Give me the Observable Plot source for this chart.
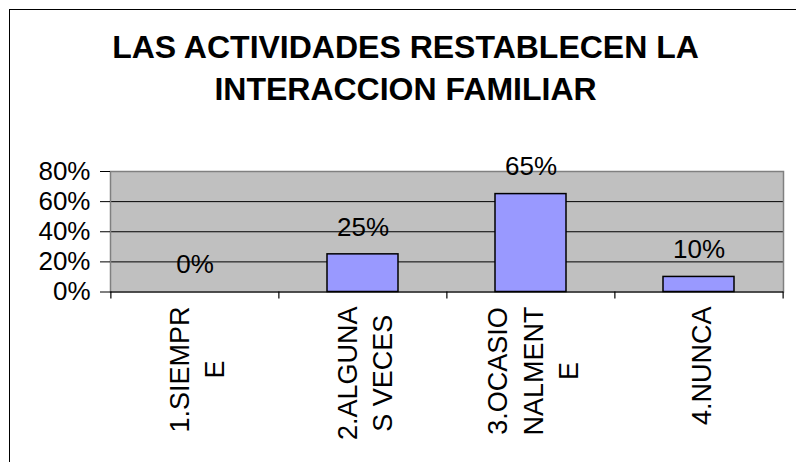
<!DOCTYPE html>
<html>
<head>
<meta charset="utf-8">
<script src="https://cdn.jsdelivr.net/npm/d3@7"></script>
<script src="https://cdn.jsdelivr.net/npm/@observablehq/plot@0.6"></script>
<style>
  html, body { margin: 0; padding: 0; background: #fff; }
  body { width: 796px; height: 462px; position: relative; overflow: hidden; font-family: "Liberation Sans", Arial, sans-serif; }
  #border { position: absolute; left: 9px; top: 9px; width: 800px; height: 470px; border-top: 1px solid #000; border-left: 1px solid #000; box-sizing: border-box; }
  #title { position: absolute; left: 12px; top: 27px; width: 787px; text-align: center; font-weight: bold; font-size: 32px; line-height: 41.7px; color: #000; }
  #chart { position: absolute; left: 0; top: 120px; }
</style>
</head>
<body>
<div id="border"></div>
<div id="title">LAS ACTIVIDADES RESTABLECEN LA<br>INTERACCION FAMILIAR</div>
<div id="chart"></div>
<script>
const categories = ["1.SIEMPRE", "2.ALGUNAS VECES", "3.OCASIONALMENTE", "4.NUNCA"];
const axisLabels = ["1.SIEMPR\nE", "2.ALGUNA\nS VECES", "3.OCASIO\nNALMENT\nE", "4.NUNCA"];
const values = [0, 0.25, 0.65, 0.10];
const yTicks = [0, 0.2, 0.4, 0.6, 0.8];

const data = categories.map((c, i) => ({category: c, value: values[i], label: axisLabels[i]}));

const W = 796, H = 342;
const mL = 110, mR = 13, mT = 51, mB = 170.5;
const plotH = H - mT - mB;
const step = (W - mL - mR) / categories.length;
const font = "'Liberation Sans', Arial, sans-serif";
const pct = d3.format(".0%");

const canvas = document.createElement("canvas");
const ctx = canvas.getContext("2d");
ctx.font = "27px 'Liberation Sans'";
function longest(s) { return d3.max(s.split("\n"), l => ctx.measureText(l).width); }

const xLabelMarks = data.map(d => Plot.text([d], {
  x: "category", text: "label", frameAnchor: "bottom", rotate: -90,
  textAnchor: "middle", lineAnchor: "middle", lineHeight: 1.33,
  fontSize: 27, fill: "#000", dy: 14.5 + longest(d.label) / 2
}));

const plot = Plot.plot({
  width: W, height: H,
  marginLeft: mL, marginRight: mR, marginTop: mT, marginBottom: mB,
  style: {fontFamily: font, background: "transparent", color: "#000", overflow: "visible"},
  x: {domain: categories, paddingInner: 0.58, paddingOuter: 0.29, axis: null},
  y: {domain: [0, 0.8], axis: null},
  marks: [
    Plot.frame({fill: "#c0c0c0", stroke: "none"}),
    Plot.gridY(yTicks.filter(t => t > 0 && t < 0.8), {stroke: "#000", strokeOpacity: 1, strokeWidth: 1}),
    Plot.frame({stroke: "#808080", strokeWidth: 1.5}),
    Plot.ruleY([0], {stroke: "#000", strokeWidth: 1}),
    Plot.axisY({ticks: yTicks, tickFormat: pct, tickSize: 10, tickPadding: 10, fontSize: 26, stroke: "#000", fill: "#000", label: null}),
    Plot.ruleX(categories, {x: d => d, insetTop: plotH, insetBottom: -7, dx: -step / 2, stroke: "#000", strokeWidth: 1.2}),
    Plot.ruleX(categories.slice(-1), {x: d => d, insetTop: plotH, insetBottom: -7, dx: step / 2, stroke: "#000", strokeWidth: 1.2}),
    Plot.barY(data, {x: "category", y: "value", fill: "#9999ff", stroke: "#000", strokeWidth: 1.5}),
    Plot.text(data, {x: "category", y: "value", text: d => pct(d.value), dy: -27, fontSize: 26, fill: "#000"}),
    ...xLabelMarks
  ]
});
document.getElementById("chart").appendChild(plot);
</script>
</body>
</html>
